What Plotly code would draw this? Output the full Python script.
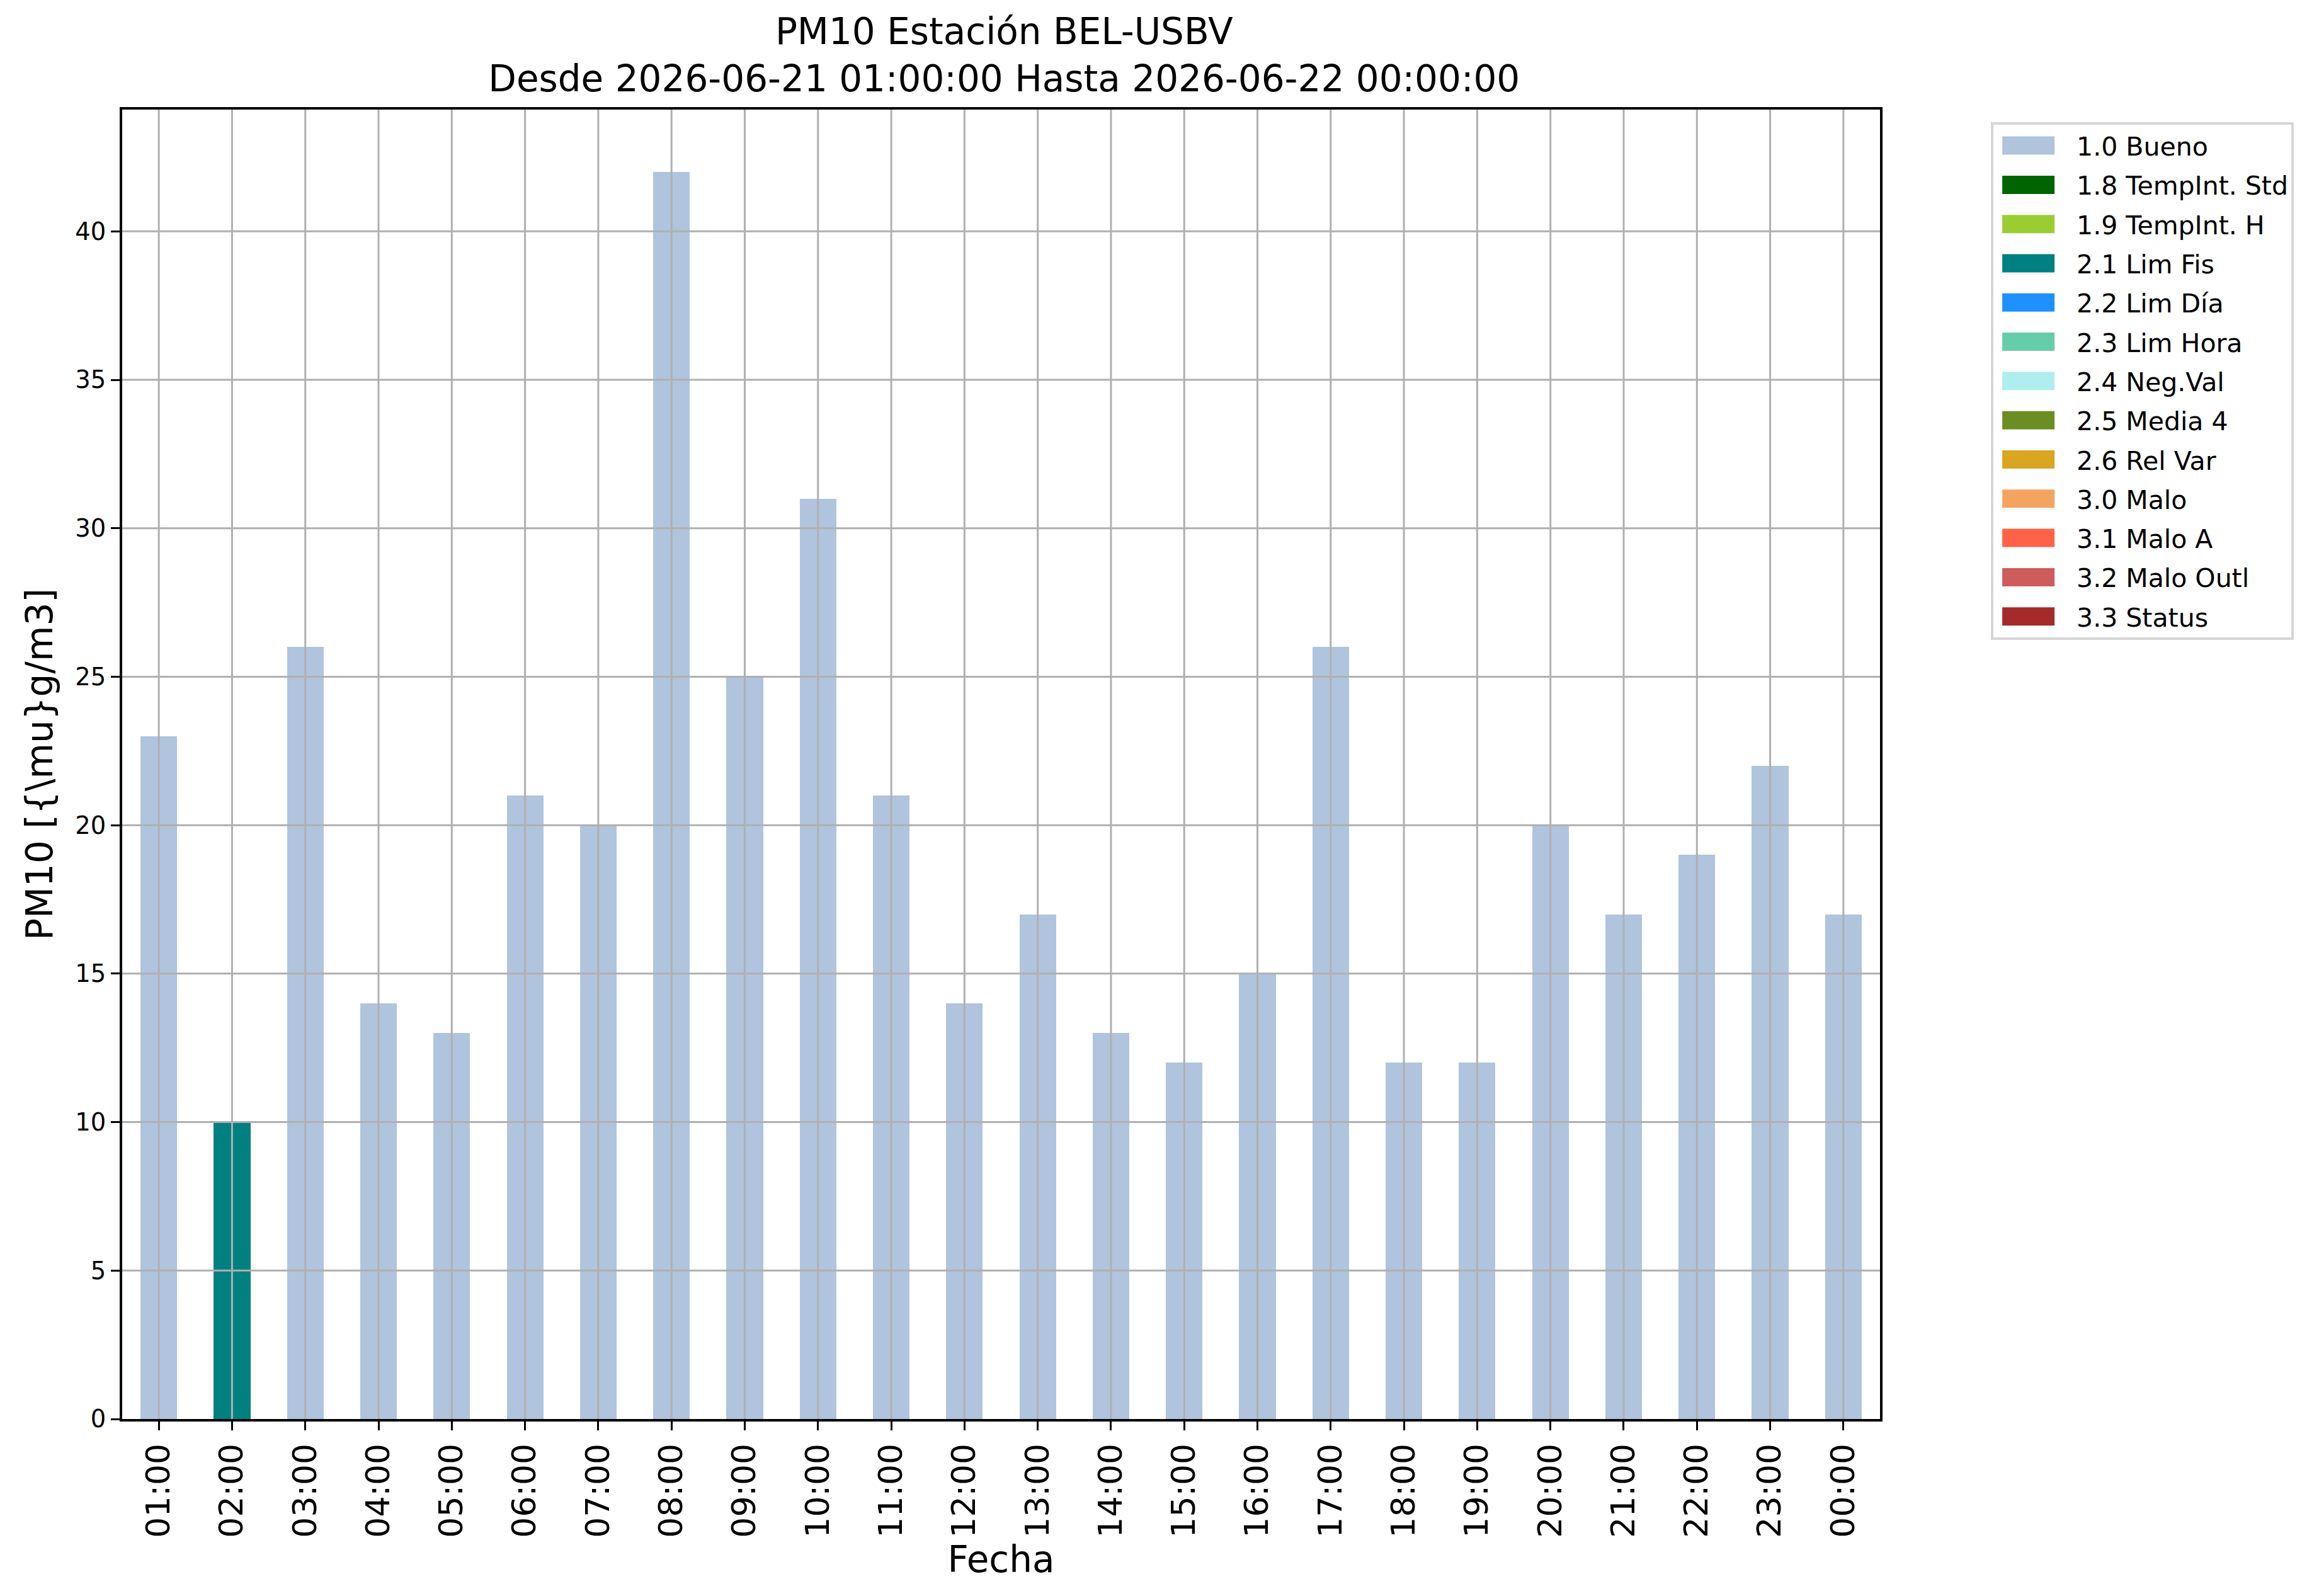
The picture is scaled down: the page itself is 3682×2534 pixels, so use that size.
import plotly.graph_objects as go

# ---------------- data ----------------
hours = ["01:00", "02:00", "03:00", "04:00", "05:00", "06:00", "07:00", "08:00",
         "09:00", "10:00", "11:00", "12:00", "13:00", "14:00", "15:00", "16:00",
         "17:00", "18:00", "19:00", "20:00", "21:00", "22:00", "23:00", "00:00"]
pm10 = [23, 10, 26, 14, 13, 21, 20, 42, 25, 31, 21, 14, 17, 13, 12, 15,
        26, 12, 12, 20, 17, 19, 22, 17]
flags = ["1.0 Bueno", "2.1 Lim Fis"] + ["1.0 Bueno"] * 22

flag_names = ["1.0 Bueno", "1.8 TempInt. Std", "1.9 TempInt. H", "2.1 Lim Fis",
              "2.2 Lim Día", "2.3 Lim Hora", "2.4 Neg.Val", "2.5 Media 4",
              "2.6 Rel Var", "3.0 Malo", "3.1 Malo A", "3.2 Malo Outl", "3.3 Status"]
flag_colors = ["#B0C4DE", "#006400", "#9ACD32", "#008080", "#1E90FF", "#66CDAA",
               "#AFEEEE", "#6B8E23", "#DAA520", "#F4A460", "#FF6347", "#CD5C5C",
               "#A52A2A"]
y_ticks = [0, 5, 10, 15, 20, 25, 30, 35, 40]

title_text = ("PM10 Estación BEL-USBV<br>"
              "Desde 2026-06-21 01:00:00 Hasta 2026-06-22 00:00:00")
FONT = "DejaVu Sans"

fig = go.Figure()
for name, color in zip(flag_names, flag_colors):
    ys = [v if f == name else None for v, f in zip(pm10, flags)]
    fig.add_trace(go.Bar(
        x=hours, y=ys, name=name, legendgroup=name,
        marker=dict(color=color, line=dict(width=0)),
        width=0.5, showlegend=True,
    ))

# grid lines drawn above the bars (as in the reference)
grid_color = "#b0b0b0"
for h in hours:
    fig.add_shape(type="line", xref="x", yref="paper", x0=h, x1=h, y0=0, y1=1,
                  line=dict(color=grid_color, width=3), layer="above")
for t in y_ticks[1:]:
    fig.add_shape(type="line", xref="paper", yref="y", x0=0, x1=1, y0=t, y1=t,
                  line=dict(color=grid_color, width=3), layer="above")

fig.update_layout(
    width=3682, height=2534,
    margin=dict(l=186, r=705, t=166, b=289),
    paper_bgcolor="white", plot_bgcolor="white",
    barmode="stack", bargap=0.5,
    font=dict(family=FONT, color="black"),
    title=dict(text=title_text, x=0.5017, xref="paper", xanchor="center",
               y=0.9755, yref="container", yanchor="middle",
               font=dict(size=58, family=FONT, color="black")),
    legend=dict(x=1.0631, xanchor="left", y=0.9904, yanchor="top",
                font=dict(size=41, family=FONT, color="black"),
                bordercolor="#d6d6d6", borderwidth=4, bgcolor="white",
                itemwidth=122, tracegroupgap=6, traceorder="grouped"),
    xaxis=dict(type="category", range=[-0.5, 23.5], tickangle=-90,
               showgrid=False, zeroline=False,
               showline=True, mirror=True, linecolor="black", linewidth=4,
               ticks="outside", ticklen=14, tickwidth=3, tickcolor="black",
               tickfont=dict(size=52, family=FONT, color="black"),
               title=dict(text="Fecha", standoff=14,
                          font=dict(size=58, family=FONT, color="black"))),
    yaxis=dict(range=[0, 44.1], tickvals=y_ticks,
               showgrid=False, zeroline=False,
               showline=True, mirror=True, linecolor="black", linewidth=4,
               ticks="outside", ticklen=14, tickwidth=3, tickcolor="black",
               tickfont=dict(size=38.5, family=FONT, color="black"),
               title=dict(text="PM10 [{\\mu}g/m3]", standoff=18,
                          font=dict(size=58, family=FONT, color="black"))),
)

post = """
var gd = document.getElementById('{plot_id}');
gd.querySelectorAll('.legendpoints path').forEach(function(p){
  p.setAttribute('d', 'M-52,-14.5H31V14.5H-52Z');
});
"""
fig.write_html("out.html", post_script=post)
